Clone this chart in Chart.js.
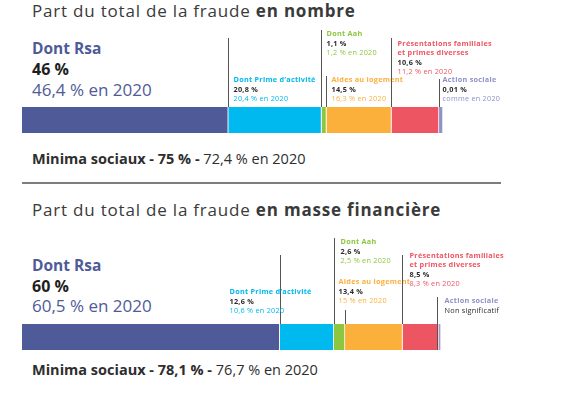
<!DOCTYPE html>
<html>
<head>
<meta charset="utf-8">
<script src="https://cdn.jsdelivr.net/npm/chart.js@4.4.0/dist/chart.umd.min.js"></script>
<style>
  body { margin: 0; width: 567px; height: 396px; background: #fff; position: relative; overflow: hidden;
         font-family: "Open Sans", sans-serif; color: #333; }
  canvas { position: absolute; left: 0; top: 0; }
  .t { position: absolute; white-space: nowrap; line-height: 1; }
  .title { font-size: 17px; color: #3a3a3a; letter-spacing: 0.8px; }
  .rsa { font-size: 15.5px; font-weight: 700; color: #4f5b98; }
  .big { font-size: 16px; font-weight: 700; color: #1e1e1e; }
  .prev { font-size: 17px; color: #4f5b98; }
  .minima { font-size: 14.5px; color: #2e2e2e; }
  .sep { position: absolute; left: 22px; top: 182px; width: 479px; height: 2px; background: #7d7d7d; }
</style>
</head>
<body>
<div class="t title" style="left:32px;top:2px">Part du total de la fraude <b>en nombre</b></div>
<div class="t rsa" id="rsa1" style="left:32px;top:40.5px"></div>
<div class="t big" id="cur1" style="left:32px;top:60.5px"></div>
<div class="t prev" id="prev1" style="left:32px;top:80.5px"></div>
<div class="t minima" id="min1" style="left:32px;top:151.5px"></div>
<div class="sep"></div>
<div class="t title" style="left:32px;top:200.5px">Part du total de la fraude <b>en masse financière</b></div>
<div class="t rsa" id="rsa2" style="left:32px;top:257.5px"></div>
<div class="t big" id="cur2" style="left:32px;top:278px"></div>
<div class="t prev" id="prev2" style="left:32px;top:297px"></div>
<div class="t minima" id="min2" style="left:32px;top:362.5px"></div>
<canvas id="chartNombre" width="567" height="396"></canvas>
<canvas id="chartMasse" width="567" height="396"></canvas>
<script>
// categories of the bar, left to right
const categories = ['Dont Rsa', 'Dont Prime d\u2019activité', 'Dont Aah', 'Aides au logement',
  'Présentations familiales\net primes diverses', 'Action sociale'];
const colors = ['#4f5b98', '#00b9ee', '#8dc63f', '#fbb03b', '#ee5563', '#8e92c6'];

// part du total en nombre (%), 2021 and 2020
const nombre2021 = [46, 20.8, 1.1, 14.5, 10.6, 0.01];
const nombre2020 = [46.4, 20.4, 1.2, 16.3, 11.2, 0.01];
// part du total en masse financière (%), 0 = non significatif
const masse2021 = [60, 12.6, 2.6, 13.4, 8.5, 0];
const masse2020 = [60.5, 10.6, 2.5, 15, 8.3, 0];
// minima sociaux (%), 2021 and 2020
const minimaNombre = [75, 72.4];
const minimaMasse = [78.1, 76.7];

const fmt = v => String(v).replace('.', ',');

// callout placement (page px): top of leader line, first baseline, label offset
const calloutsNombre = [
  null,
  { top: 38, base: 82, dx: 5 },
  { top: 30, base: 36, dx: 5 },
  { top: 76, base: 82, dx: 5 },
  { top: 38, base: 45.5, dx: 6 },
  { top: 79, base: 82, dx: 3 }
];
const calloutsMasse = [
  null,
  { top: 255, base: 294, dx: -51 },
  { top: 238, base: 244, dx: 6 },
  { top: 310, base: 284, dx: -7 },
  { top: 255, base: 257.5, dx: 7 },
  { top: 297, base: 303, dx: 7, through: true }
];

function fillText(id, cur, prev, minima) {
  document.getElementById('rsa' + id).textContent = categories[0];
  document.getElementById('cur' + id).textContent = fmt(cur[0]) + ' %';
  document.getElementById('prev' + id).textContent = fmt(prev[0]) + ' % en 2020';
  document.getElementById('min' + id).innerHTML =
    '<b>Minima sociaux - ' + fmt(minima[0]) + ' % - </b>' + fmt(minima[1]) + ' % en 2020';
}
fillText(1, nombre2021, nombre2020, minimaNombre);
fillText(2, masse2021, masse2020, minimaMasse);

const calloutPlugin = {
  id: 'callouts',
  afterDatasetsDraw(chart, args, opts) {
    const ctx = chart.ctx;
    ctx.save();
    opts.layout.forEach((c, i) => {
      if (!c) return;
      const el = chart.getDatasetMeta(i).data[0];
      const p = el.getProps(['x', 'base', 'y', 'height'], true);
      const x = Math.round(Math.min(p.x, p.base)) + 0.5;
      const barTop = p.y - p.height / 2;
      ctx.strokeStyle = '#555';
      ctx.lineWidth = 1;
      ctx.beginPath();
      ctx.moveTo(x, c.top);
      ctx.lineTo(x, c.through ? barTop + p.height : barTop);
      ctx.stroke();

      const cur = opts.cur[i], prev = opts.prev[i];
      const lines = categories[i].split('\n').map(s => ({ s, color: colors[i], bold: true }));
      if (cur === 0) {
        lines.push({ s: 'Non significatif', color: '#2b2b2b', bold: false });
      } else {
        lines.push({ s: fmt(cur) + ' %', color: '#2b2b2b', bold: true });
        lines.push({ s: (prev === cur ? 'comme' : fmt(prev) + ' %') + ' en 2020', color: colors[i], bold: false });
      }
      ctx.textBaseline = 'alphabetic';
      ctx.letterSpacing = '0.25px';
      lines.forEach((l, k) => {
        ctx.font = (l.bold ? 'bold ' : '') + '7.3px "Open Sans"';
        ctx.fillStyle = l.color;
        ctx.fillText(l.s, x + c.dx, c.base + k * 9.5);
      });
    });
    ctx.restore();
  }
};

function makeChart(id, cur, prev, layout, barTop) {
  const total = cur.reduce((a, b) => a + b, 0);
  return new Chart(document.getElementById(id), {
    type: 'bar',
    data: {
      labels: [''],
      datasets: categories.map((c, i) => ({
        label: c,
        data: [cur[i]],
        backgroundColor: colors[i],
        borderColor: '#fff',
        borderWidth: { right: 1, left: 0, top: 0, bottom: 0 },
        borderSkipped: false,
        minBarLength: 4,
        clip: false
      }))
    },
    options: {
      responsive: false,
      animation: false,
      indexAxis: 'y',
      barPercentage: 1,
      categoryPercentage: 1,
      layout: { padding: { left: 22, right: 128, top: barTop, bottom: 396 - barTop - 26 } },
      scales: {
        x: { stacked: true, min: 0, max: total, display: false },
        y: { stacked: true, display: false }
      },
      plugins: {
        legend: { display: false },
        tooltip: { enabled: false },
        callouts: { layout, cur, prev }
      }
    },
    plugins: [calloutPlugin]
  });
}

makeChart('chartNombre', nombre2021, nombre2020, calloutsNombre, 107);
makeChart('chartMasse', masse2021, masse2020, calloutsMasse, 324);
</script>
</body>
</html>
